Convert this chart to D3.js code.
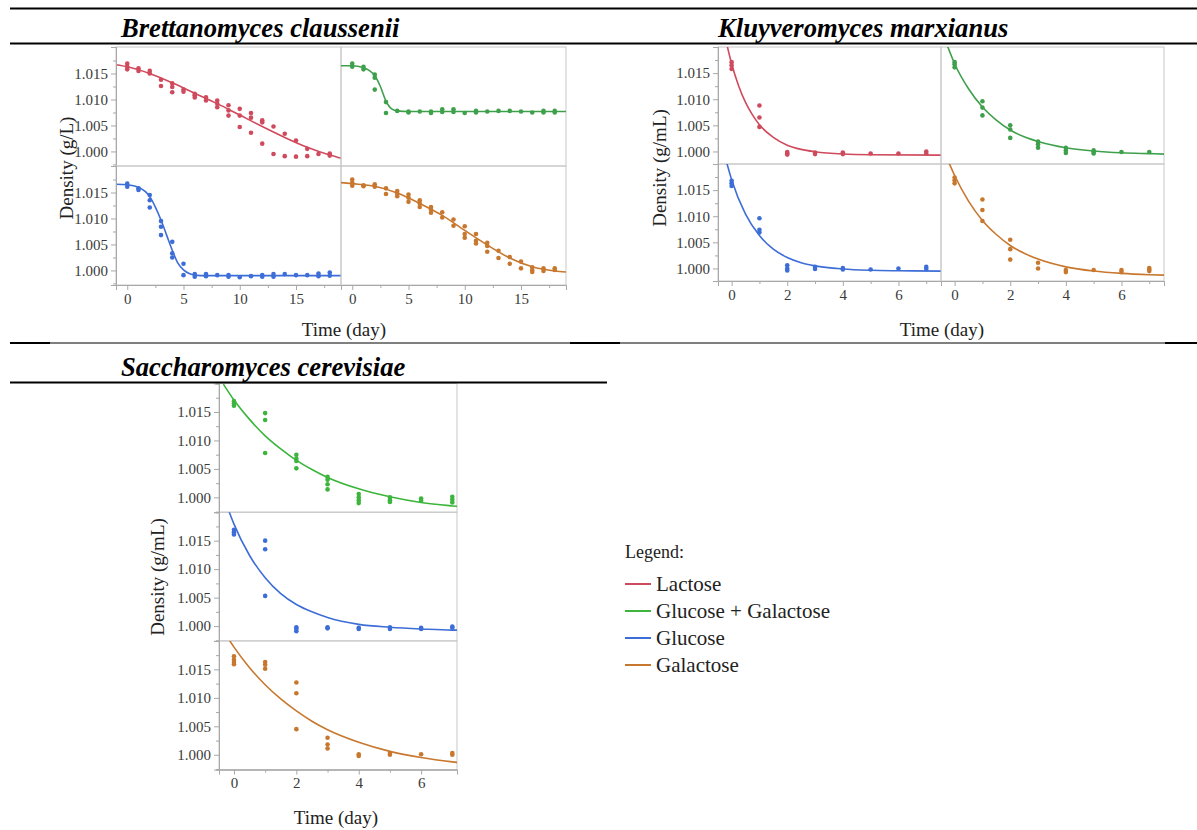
<!DOCTYPE html>
<html>
<head>
<meta charset="utf-8">
<script src="https://cdn.jsdelivr.net/npm/d3@7"></script>
<style>
body { margin: 0; background: #fff; }
svg { display: block; }
text { font-family: "Liberation Serif", "DejaVu Serif", "Times New Roman", serif; }
</style>
</head>
<body>
<div id="chart"></div>
<script>
// ---- data: [day, density] ----
// Brettanomyces claussenii
const bcLactose = [[0,1.0169],[0,1.0163],[0,1.0158],[1,1.0160],[1,1.0155],[2,1.0155],[2,1.0150],[3,1.0138],[3,1.0126],
  [4,1.0131],[4,1.0124],[4,1.0114],[5,1.0119],[5,1.0115],[6,1.0111],[6,1.0108],[6,1.0104],[7,1.0104],[7,1.0098],
  [8,1.0098],[8,1.0092],[8,1.0085],[9,1.0089],[9,1.0079],[9,1.0069],[10,1.0082],[10,1.0069],[10,1.0047],
  [11,1.0074],[11,1.0065],[11,1.0036],[12,1.0060],[12,1.0056],[12,1.0015],[13,1.0048],[13,0.9995],[14,1.0034],[14,0.9991],
  [15,1.0021],[15,0.9990],[16,1.0005],[16,0.9991],[17,0.9995],[18,0.9996],[18,0.9992]];
const bcGlcGal = [[0,1.0169],[0,1.0163],[1,1.0163],[1,1.0158],[2,1.0148],[2,1.0142],[2,1.0119],[3,1.0095],[3,1.0074],
  [4,1.0078],[5,1.0077],[5,1.0075],[6,1.0077],[7,1.0077],[7,1.0074],[8,1.0081],[8,1.0076],[9,1.0081],[9,1.0076],
  [10,1.0074],[11,1.0078],[11,1.0075],[12,1.0077],[13,1.0078],[14,1.0078],[15,1.0077],[16,1.0075],[17,1.0078],[17,1.0075],
  [18,1.0078],[18,1.0075]];
const bcGlucose = [[0,1.0167],[0,1.0161],[1,1.0158],[1,1.0155],[2,1.0145],[2,1.0135],[2,1.0121],[3,1.0095],[3,1.0084],[3,1.0068],
  [4,1.0055],[4,1.0033],[4,1.0025],[5,1.0013],[5,0.9991],[6,0.9993],[6,0.9988],[7,0.9993],[7,0.9989],[8,0.9991],
  [9,0.9991],[9,0.9988],[10,0.9987],[11,0.9989],[12,0.9991],[12,0.9988],[13,0.9993],[13,0.9988],[14,0.9993],[15,0.9991],
  [16,0.9991],[17,0.9994],[17,0.9989],[18,0.9996],[18,0.9990]];
const bcGalactose = [[0,1.0175],[0,1.0169],[0,1.0163],[1,1.0164],[1,1.0162],[2,1.0166],[2,1.0161],[3,1.0158],[3,1.0147],
  [4,1.0153],[4,1.0148],[4,1.0143],[5,1.0146],[5,1.0140],[5,1.0132],[6,1.0135],[6,1.0129],[6,1.0122],[7,1.0122],[7,1.0117],[7,1.0111],
  [8,1.0112],[8,1.0102],[9,1.0098],[9,1.0086],[10,1.0085],[10,1.0070],[10,1.0063],[11,1.0070],[11,1.0057],[11,1.0052],
  [12,1.0053],[12,1.0047],[12,1.0036],[13,1.0038],[13,1.0024],[14,1.0026],[14,1.0013],[15,1.0017],[15,1.0004],
  [16,1.0006],[16,1.0001],[16,0.9997],[17,1.0004],[17,0.9999],[18,1.0004],[18,1.0001]];
const bcLactoseFit = [[-1,1.0167],[0,1.0163],[2,1.0150],[4,1.0132],[6,1.0112],[8,1.0092],[10,1.0070],[12,1.0048],[14,1.0027],[16,1.0008],[18,0.9993],[19,0.9987]];
const bcGlcGalFit = [[-1,1.0165],[0,1.0165],[1,1.0161],[1.5,1.0156],[2,1.0146],[2.5,1.0125],[3,1.0097],[3.5,1.0082],[4,1.0078],[5,1.0077],[19,1.0077]];
const bcGlucoseFit = [[-1,1.0166],[0,1.0165],[1,1.0160],[2,1.0142],[2.5,1.0122],[3,1.0097],[3.5,1.0068],[4,1.0039],[4.5,1.0014],[5,1.0001],[5.5,0.9994],[6,0.9991],[7,0.9990],[19,0.9990]];
const bcGalactoseFit = [[-1,1.0169],[0,1.0167],[2,1.0162],[4,1.0149],[6,1.0129],[8,1.0106],[10,1.0077],[12,1.0049],[14,1.0024],[16,1.0007],[18,0.9999],[19,0.9997]];

// Kluyveromyces marxianus
const kmLactose = [[0,1.0171],[0,1.0165],[0,1.0158],[1,1.0088],[1,1.0065],[1,1.0047],[2,0.9999],[2,0.9996],[2,0.9994],
  [3,0.9998],[3,0.9995],[4,0.9998],[4,0.9995],[5,0.9996],[6,0.9996],[7,1.0000],[7,0.9996]];
const kmGlcGal = [[0,1.0171],[0,1.0167],[0,1.0161],[1,1.0096],[1,1.0084],[1,1.0069],[2,1.0050],[2,1.0042],[2,1.0026],
  [3,1.0019],[3,1.0014],[3,1.0007],[4,1.0007],[4,1.0002],[4,0.9997],[5,1.0002],[5,0.9999],[5,0.9996],[6,0.9999],[7,0.9999]];
const kmGlucose = [[0,1.0168],[0,1.0163],[0,1.0158],[1,1.0096],[1,1.0074],[1,1.0069],[2,1.0006],[2,1.0000],[2,0.9996],
  [3,1.0003],[3,0.9999],[4,1.0001],[4,0.9998],[5,0.9998],[6,1.0000],[7,1.0003],[7,0.9999]];
const kmGalactose = [[0,1.0174],[0,1.0169],[0,1.0163],[1,1.0132],[1,1.0112],[1,1.0091],[2,1.0055],[2,1.0037],[2,1.0017],
  [3,1.0011],[3,1.0000],[4,0.9997],[4,0.9993],[5,0.9997],[6,0.9997],[6,0.9993],[7,1.0001],[7,0.9998],[7,0.9995]];
const kmLactoseFit = [[-0.25,1.0223],[0,1.0168],[0.25,1.0126],[0.5,1.0094],[0.75,1.0070],[1,1.0051],[1.5,1.0027],[2,1.0012],[2.5,1.0004],[3,0.99995],[4,0.99951],[5,0.99937],[7.53,0.9993]];
const kmGlcGalFit = [[-0.3,1.0208],[0,1.0168],[0.5,1.0120],[1,1.0085],[1.5,1.0060],[2,1.0041],[2.5,1.0028],[3,1.0019],[4,1.0007],[5,1.0001],[6,0.99975],[7,0.99958],[7.53,0.9995]];
const kmGlucoseFit = [[-0.25,1.0217],[0,1.0170],[0.5,1.0104],[1,1.0063],[1.5,1.0037],[2,1.0021],[2.5,1.0011],[3,1.0005],[4,0.9999],[5,0.99965],[6,0.99956],[7.53,0.9995]];
const kmGalactoseFit = [[-0.2,1.0202],[0,1.0178],[0.5,1.0129],[1,1.0092],[1.5,1.0065],[2,1.0044],[2.5,1.0029],[3,1.0018],[4,1.0003],[5,0.9995],[6,0.99906],[7,0.99881],[7.53,0.99873]];

// Saccharomyces cerevisiae
const scGlcGal = [[0,1.0169],[0,1.0165],[0,1.0161],[1,1.0148],[1,1.0136],[1,1.0078],[2,1.0075],[2,1.0068],[2,1.0064],[2,1.0051],
  [3,1.0036],[3,1.0031],[3,1.0023],[3,1.0014],[4,1.0006],[4,1.0000],[4,0.9995],[4,0.9990],[5,1.0000],[5,0.9995],[5,0.9992],
  [6,0.9998],[6,0.9994],[7,1.0001],[7,0.9996],[7,0.9991]];
const scGlucose = [[0,1.0169],[0,1.0165],[0,1.0161],[1,1.0150],[1,1.0135],[1,1.0053],[2,0.9998],[2,0.9995],[2,0.9991],
  [3,0.9998],[3,0.9996],[4,0.9997],[4,0.9995],[5,0.9998],[5,0.9995],[6,0.9997],[6,0.9995],[7,0.9999],[7,0.9997]];
const scGalactose = [[0,1.0173],[0,1.0167],[0,1.0163],[0,1.0159],[1,1.0163],[1,1.0158],[1,1.0151],[2,1.0127],[2,1.0108],[2,1.0045],
  [3,1.0030],[3,1.0018],[3,1.0011],[4,1.0001],[4,0.9998],[5,1.0003],[5,1.0000],[6,1.0001],[7,1.0003],[7,1.0000]];
const scGlcGalFit = [[-0.34,1.0199],[0,1.0171],[0.5,1.0137],[1,1.0108],[1.5,1.0085],[2,1.0065],[2.5,1.0049],[3,1.0035],[4,1.0015],[5,1.0001],[6,0.9991],[7,0.9985],[7.2,0.9984]];
const scGlucoseFit = [[-0.25,1.0215],[0,1.0179],[0.5,1.0124],[1,1.0085],[1.5,1.0057],[2,1.0038],[2.5,1.0025],[3,1.0015],[4,1.0003],[5,0.9998],[6,0.9995],[7,0.9993],[7.2,0.9993]];
const scGalactoseFit = [[-0.25,1.0210],[0,1.0189],[0.5,1.0153],[1,1.0123],[1.5,1.0098],[2,1.0077],[2.5,1.0059],[3,1.0044],[4,1.0022],[5,1.0006],[6,0.99953],[7,0.99876],[7.2,0.99863]];

// ticks and labels
const yTicks = [1.000, 1.005, 1.010, 1.015];
const yMinor = [0.9975, 1.0025, 1.0075, 1.0125, 1.0175];
const xTicksLong = [0, 5, 10, 15];
const xMinorLong = [2.5, 7.5, 12.5, 17.5];
const xTicksShort = [0, 2, 4, 6];
const xMinorShort = [1, 3, 5, 7];
const legendLabels = ["Lactose", "Glucose + Galactose", "Glucose", "Galactose"];

const colLactose = "#cf4a5c", colGlcGal = "#3fa04c", colGlcGalSc = "#3cb53c",
      colGlucose = "#3d6dd6", colGalactose = "#c8782e";
const legendColors = [colLactose, colGlcGalSc, colGlucose, colGalactose];

const svg = d3.select("#chart").append("svg")
    .attr("width", 1197)
    .attr("height", 830);

let clipId = 0;

// one panel: frame, fitted line, points, optional axes
function panel(x0, x1, y0, y1, xDom, yDom, pts, fit, color, opt) {
    const x = d3.scaleLinear().domain(xDom).range([x0, x1]);
    const y = d3.scaleLinear().domain(yDom).range([y1, y0]);
    const g = svg.append("g");
    const id = "clip" + (clipId++);
    g.append("clipPath").attr("id", id).append("rect")
        .attr("x", x0).attr("y", y0).attr("width", x1 - x0).attr("height", y1 - y0);

    g.append("rect")
        .attr("x", x0).attr("y", y0).attr("width", x1 - x0).attr("height", y1 - y0)
        .attr("fill", "none").attr("stroke", "#c8c8c8").attr("stroke-width", 1);

    const line = d3.line()
        .x(d => x(d[0]))
        .y(d => y(d[1]))
        .curve(d3.curveMonotoneX);

    const inner = g.append("g").attr("clip-path", "url(#" + id + ")");
    inner.append("path")
        .datum(fit)
        .attr("fill", "none")
        .attr("stroke", color)
        .attr("stroke-width", 1.6)
        .attr("d", line);
    inner.selectAll("circle")
        .data(pts)
        .join("circle")
        .attr("cx", d => x(d[0]))
        .attr("cy", d => y(d[1]))
        .attr("r", 2.3)
        .attr("fill", color);

    if (opt.yAxis) {
        const ya = g.append("g").attr("transform", "translate(" + x0 + ",0)")
            .call(d3.axisLeft(y).tickValues(yTicks).tickFormat(d3.format(".3f")).tickSize(5).tickPadding(3));
        ya.append("g").call(d3.axisLeft(y).tickValues(yMinor.filter(v => v > yDom[0] && v < yDom[1])).tickFormat("").tickSize(3));
        styleAxis(ya);
    }
    if (opt.xAxis) {
        const xa = g.append("g").attr("transform", "translate(0," + y1 + ")")
            .call(d3.axisBottom(x).tickValues(opt.xTicks).tickSize(5).tickPadding(3));
        xa.append("g").call(d3.axisBottom(x).tickValues(opt.xMinor.filter(v => v < xDom[1])).tickFormat("").tickSize(3));
        styleAxis(xa);
    }
}

function styleAxis(a) {
    a.attr("font-family", null);
    a.selectAll(".domain").attr("stroke", "#a8a8a8");
    a.selectAll(".tick line").attr("stroke", "#a8a8a8");
    a.selectAll("text")
        .attr("fill", "#3a3a3a")
        .style("font-family", "'Liberation Serif', 'DejaVu Serif', serif")
        .style("font-size", "15px");
}

// ---- Brettanomyces claussenii ----
const bcX = [116, 341, 566], bcY = [47, 166, 285];
const bcXDom = [-1, 19], bcYDom = [0.9972, 1.0201];
const bcLong = {xTicks: xTicksLong, xMinor: xMinorLong};
panel(bcX[0], bcX[1], bcY[0], bcY[1], bcXDom, bcYDom, bcLactose, bcLactoseFit, colLactose, {yAxis: true});
panel(bcX[1], bcX[2], bcY[0], bcY[1], bcXDom, bcYDom, bcGlcGal, bcGlcGalFit, colGlcGal, {});
panel(bcX[0], bcX[1], bcY[1], bcY[2], bcXDom, bcYDom, bcGlucose, bcGlucoseFit, colGlucose, Object.assign({yAxis: true, xAxis: true}, bcLong));
panel(bcX[1], bcX[2], bcY[1], bcY[2], bcXDom, bcYDom, bcGalactose, bcGalactoseFit, colGalactose, Object.assign({xAxis: true}, bcLong));

// ---- Kluyveromyces marxianus ----
const kmX = [718, 941, 1164], kmY = [47, 164, 281];
const kmXDom = [-0.49, 7.53], kmYDom = [0.9976, 1.0200];
const kmShort = {xTicks: xTicksShort, xMinor: xMinorShort};
panel(kmX[0], kmX[1], kmY[0], kmY[1], kmXDom, kmYDom, kmLactose, kmLactoseFit, colLactose, {yAxis: true});
panel(kmX[1], kmX[2], kmY[0], kmY[1], kmXDom, kmYDom, kmGlcGal, kmGlcGalFit, colGlcGal, {});
panel(kmX[0], kmX[1], kmY[1], kmY[2], kmXDom, kmYDom, kmGlucose, kmGlucoseFit, colGlucose, Object.assign({yAxis: true, xAxis: true}, kmShort));
panel(kmX[1], kmX[2], kmY[1], kmY[2], kmXDom, kmYDom, kmGalactose, kmGalactoseFit, colGalactose, Object.assign({xAxis: true}, kmShort));

// ---- Saccharomyces cerevisiae ----
const scX = [219, 457], scY = [383.5, 512.2, 640.9, 769.6];
const scXDom = [-0.48, 7.15], scYDom = [0.9974, 1.0200];
const scShort = {xTicks: xTicksShort, xMinor: [1, 3, 5]};
panel(scX[0], scX[1], scY[0], scY[1], scXDom, scYDom, scGlcGal, scGlcGalFit, colGlcGalSc, {yAxis: true});
panel(scX[0], scX[1], scY[1], scY[2], scXDom, scYDom, scGlucose, scGlucoseFit, colGlucose, {yAxis: true});
panel(scX[0], scX[1], scY[2], scY[3], scXDom, scYDom, scGalactose, scGalactoseFit, colGalactose, Object.assign({yAxis: true, xAxis: true}, scShort));

// ---- titles and axis labels ----
function title(txt, x, y) {
    svg.append("text").attr("x", x).attr("y", y)
        .style("font-size", "26.6px").style("font-weight", "bold").style("font-style", "italic")
        .attr("fill", "#000").text(txt);
}
title("Brettanomyces claussenii", 121, 37);
title("Kluyveromyces marxianus", 718, 37);
title("Saccharomyces cerevisiae", 121, 376);

function label(txt, x, y, rot) {
    svg.append("text")
        .attr("transform", "translate(" + x + "," + y + ")" + (rot ? " rotate(-90)" : ""))
        .attr("text-anchor", "middle")
        .style("font-size", "19px")
        .attr("fill", "#222")
        .text(txt);
}
label("Time (day)", 344, 336);
label("Time (day)", 942, 336);
label("Time (day)", 336, 824);
label("Density (g/L)", 73, 168, true);
label("Density (g/mL)", 666, 168, true);
label("Density (g/mL)", 164, 577, true);

// ---- table rules ----
function rule(xa, xb, yy, w) {
    svg.append("line").attr("x1", xa).attr("x2", xb).attr("y1", yy).attr("y2", yy)
        .attr("stroke", "#000").attr("stroke-width", w);
}
rule(10, 1197, 8.5, 2.2);
rule(10, 1197, 43.5, 2.2);
rule(10, 50, 343, 2);
rule(50, 570, 343, 1);
rule(570, 620, 343, 2);
rule(620, 1165, 343, 1);
rule(1165, 1197, 343, 2);
rule(10, 607, 382.5, 2.2);

// ---- legend ----
const lg = svg.append("g").attr("transform", "translate(625,0)");
lg.append("text").attr("x", 0).attr("y", 558).style("font-size", "18px").attr("fill", "#222").text("Legend:");
const item = lg.selectAll(".item").data(legendLabels).join("g")
    .attr("transform", (d, i) => "translate(0," + (584 + i * 27) + ")");
item.append("line").attr("x1", 0).attr("x2", 26).attr("y1", 0).attr("y2", 0)
    .attr("stroke", (d, i) => legendColors[i]).attr("stroke-width", 2);
item.append("text").attr("x", 31).attr("y", 6.5).style("font-size", "21px").attr("fill", "#222").text(d => d);
</script>
</body>
</html>
